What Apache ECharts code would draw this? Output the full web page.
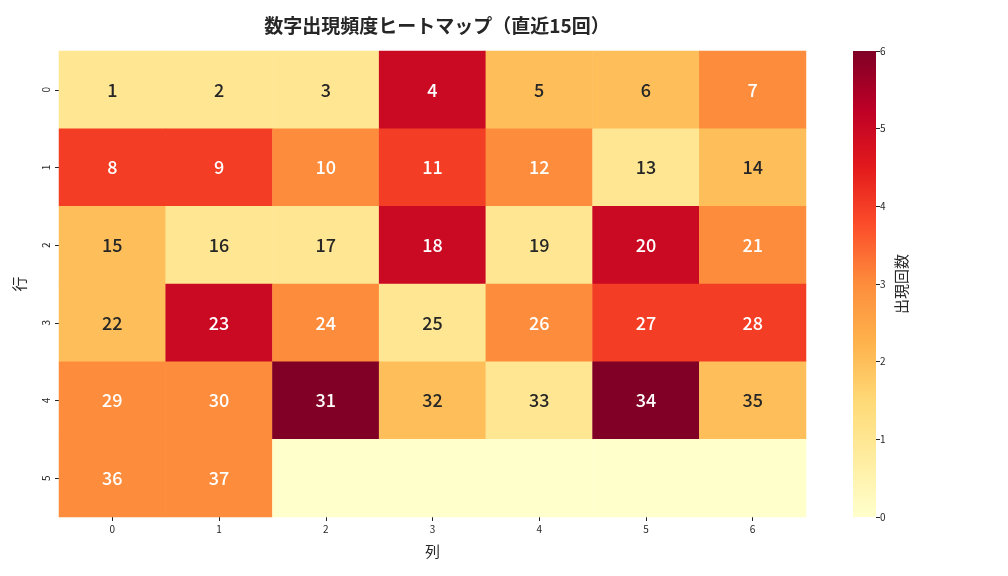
<!DOCTYPE html>
<html>
<head>
<meta charset="utf-8">
<script src="https://cdn.jsdelivr.net/npm/echarts@6/dist/echarts.min.js"></script>
<style>html,body{margin:0;padding:0;background:#fff;}#c{width:1008px;height:576px;}</style>
</head>
<body>
<div id="c"></div>
<script>
const colLabels = ['0','1','2','3','4','5','6'];
const rowLabels = ['0','1','2','3','4','5'];
// 出現回数 per cell (row by row)
const counts = [
  [1,1,1,5,2,2,3],
  [4,4,3,4,3,1,2],
  [2,1,1,5,1,5,3],
  [2,5,3,1,3,4,4],
  [3,3,6,2,1,6,2],
  [3,3,0,0,0,0,0]
];
// number shown in each cell ('' = blank)
const numbers = [
  ['1','2','3','4','5','6','7'],
  ['8','9','10','11','12','13','14'],
  ['15','16','17','18','19','20','21'],
  ['22','23','24','25','26','27','28'],
  ['29','30','31','32','33','34','35'],
  ['36','37','','','','','']
];
const cbTicks = [0,1,2,3,4,5,6];
const ylorrd = ['#ffffcc','#ffeda0','#fed976','#feb24c','#fd8d3c','#fc4e2a','#e31a1c','#bd0026','#800026'];

const data = [];
for (let r = 0; r < rowLabels.length; r++) {
  for (let c = 0; c < colLabels.length; c++) {
    data.push({value: [c, r, counts[r][c]], lbl: numbers[r][c],
      label: {color: counts[r][c] >= 3 ? '#ffffff' : '#262626'}});
  }
}
const FONT = '"Noto Sans CJK JP", "Noto Sans", sans-serif';
const chart = echarts.init(document.getElementById('c'));
chart.setOption({
  animation: false,
  backgroundColor: '#fff',
  textStyle: {fontFamily: FONT},
  title: {
    text: '数字出現頻度ヒートマップ（直近15回）',
    left: 432, top: 11, textAlign: 'center',
    textStyle: {fontFamily: FONT, fontSize: 19, fontWeight: 'bold', color: '#262626'}
  },
  grid: [
    {left: 59, right: 202, top: 51, bottom: 59},
    {left: 853, width: 23, top: 51, bottom: 59}
  ],
  xAxis: [
    {type: 'category', data: colLabels, gridIndex: 0,
     name: '列', nameLocation: 'middle', nameGap: 27,
     nameTextStyle: {fontSize: 15, color: '#262626', fontFamily: FONT},
     axisLine: {show: false}, axisTick: {show: true, alignWithLabel: true, length: 4, lineStyle: {color: '#262626'}},
     axisLabel: {fontSize: 10, color: '#262626', margin: 7},
     splitLine: {show: false}},
    {type: 'category', data: ['c'], gridIndex: 1, show: false}
  ],
  yAxis: [
    {type: 'category', data: rowLabels, gridIndex: 0, inverse: true,
     name: '行', nameLocation: 'middle', nameGap: 32, nameRotate: 90,
     nameTextStyle: {fontSize: 15, color: '#262626', fontFamily: FONT},
     axisLine: {show: false}, axisTick: {show: true, alignWithLabel: true, length: 4, lineStyle: {color: '#262626'}},
     axisLabel: {fontSize: 10, color: '#262626', rotate: 90, margin: 8},
     splitLine: {show: false}},
    {type: 'value', gridIndex: 1, min: 0, max: 6, interval: 1, position: 'right',
     name: '出現回数', nameLocation: 'middle', nameGap: 18, nameRotate: 90,
     nameTextStyle: {fontSize: 15, color: '#262626', fontFamily: FONT},
     axisLine: {show: false}, axisTick: {show: true, length: 4, lineStyle: {color: '#262626'}},
     axisLabel: {fontSize: 10, color: '#262626', margin: 4, formatter: v => cbTicks.includes(v) ? String(v) : ''},
     splitLine: {show: false}}
  ],
  visualMap: {
    type: 'continuous', min: 0, max: 6, show: false, seriesIndex: 0, dimension: 2,
    inRange: {color: ylorrd}
  },
  series: [
    {type: 'heatmap', xAxisIndex: 0, yAxisIndex: 0, data: data,
     itemStyle: {borderWidth: 0},
     label: {show: true, fontSize: 18, fontWeight: 500, fontFamily: FONT,
       formatter: p => p.data.lbl},
     emphasis: {disabled: true}
    },
    {type: 'bar', xAxisIndex: 1, yAxisIndex: 1, data: [6], barWidth: '100%',
     silent: true,
     itemStyle: {color: new echarts.graphic.LinearGradient(0, 0, 0, 1,
       ylorrd.slice().reverse().map((c, i) => ({offset: i / (ylorrd.length - 1), color: c})))}
    }
  ]
});
</script>
</body>
</html>
